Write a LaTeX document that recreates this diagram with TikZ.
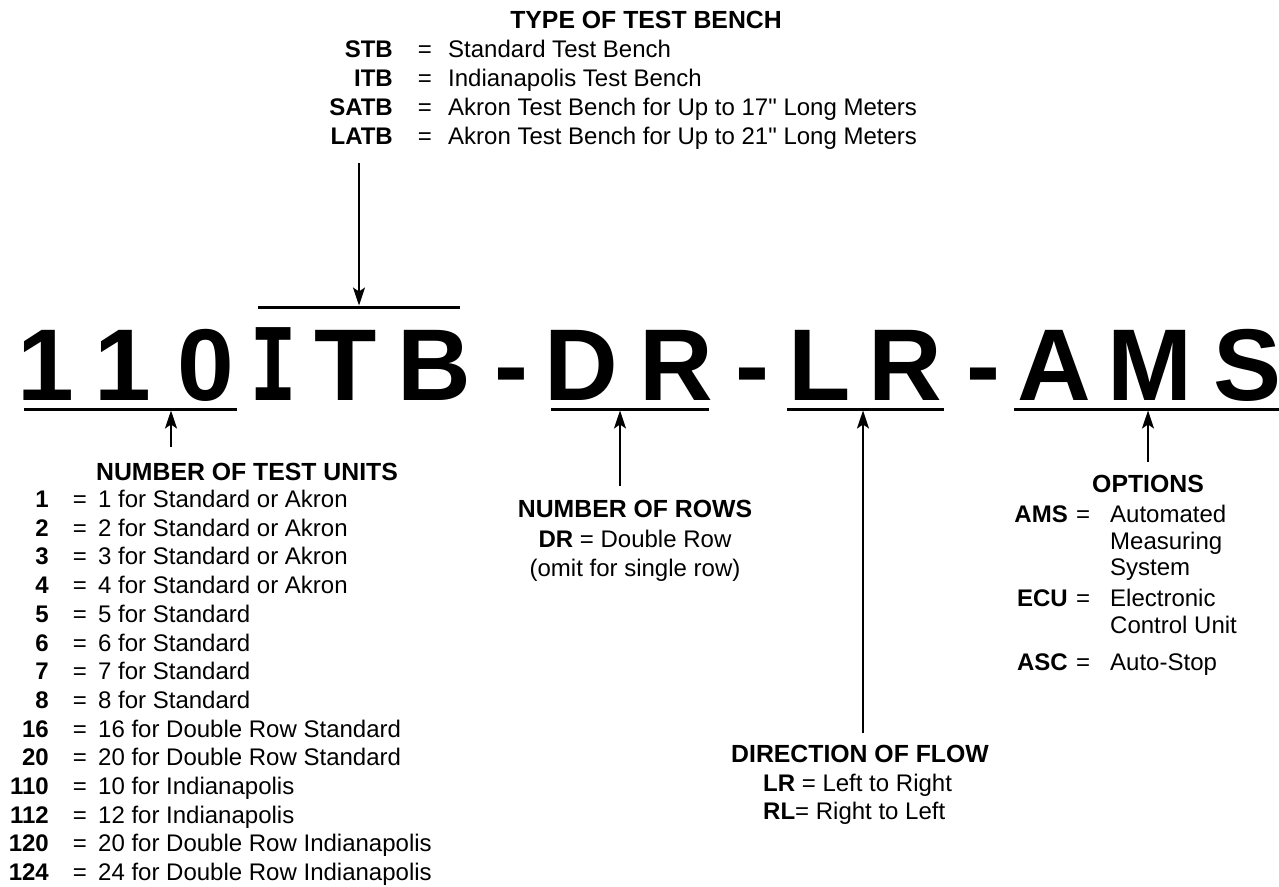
\documentclass[tikz,border=0pt]{standalone}
\usepackage{fontspec}
\setmainfont{Liberation Sans}[Ligatures=TeXOff]
\newfontfamily\monofam{DejaVu Sans Mono}
\usetikzlibrary{arrows.meta}
\begin{document}
\begin{tikzpicture}[x=1pt,y=-1pt,
  big/.style={font=\fontsize{102}{102}\selectfont\bfseries, inner sep=0pt, anchor=base},
  hd/.style={font=\fontsize{24.8}{26}\selectfont\bfseries, inner sep=0pt, anchor=base},
  keyt/.style={font=\fontsize{24}{26}\selectfont\bfseries, inner sep=0pt, anchor=base east},
  eqs/.style={font=\fontsize{24}{26}\selectfont, inner sep=0pt, anchor=base},
  desc/.style={font=\fontsize{24}{26}\selectfont, inner sep=0pt, anchor=base west},
  ctr/.style={font=\fontsize{24}{26}\selectfont, inner sep=0pt, anchor=base},
  bar/.style={line width=3pt},
  arr/.style={line width=2pt, -{Stealth[length=18pt,width=12pt,inset=4pt]}},
]
\useasboundingbox (0,0) rectangle (1279,886);

% ---- big code letters ----
\node[big] (c1)  at (46,400)   {1};
\node[big] (c2)  at (123,400)  {1};
\node[big] (c3)  at (206,400)  {0};
\node[big] (c4)  at (274,400)  {\scalebox{0.8}[1]{\fontsize{100}{100}\selectfont\monofam\bfseries I}};
\node[big] (c5)  at (346,400)  {T};
\node[big] (c6)  at (434,400)  {B};
\node[big] (c7)  at (511,400)  {-};
\node[big] (c8)  at (581.5,400) {D};
\node[big] (c9)  at (676,400)  {R};
\node[big] (c10) at (752.5,400) {-};
\node[big] (c11) at (820,400)  {L};
\node[big] (c12) at (905,400)  {R};
\node[big] (c13) at (983,400)  {-};
\node[big] (c14) at (1054.5,400) {A};
\node[big] (c15) at (1150,400) {M};
\node[big] (c16) at (1247,400) {S};

% ---- under/over lines ----
\coordinate (l110a) at (24,409);   \coordinate (l110b) at (237,409);
\coordinate (litba) at (258,307);  \coordinate (litbb) at (460,307);
\coordinate (ldra)  at (551,409);  \coordinate (ldrb)  at (709,409);
\coordinate (llra)  at (787,409);  \coordinate (llrb)  at (944,409);
\coordinate (lamsa) at (1014,409); \coordinate (lamsb) at (1279,409);
\draw[bar] (l110a) -- (l110b);
\draw[bar] (litba) -- (litbb);
\draw[bar] (ldra) -- (ldrb);
\draw[bar] (llra) -- (llrb);
\draw[bar] (lamsa) -- (lamsb);

% ---- arrows ----
\coordinate (a110t) at (171,447);  \coordinate (a110h) at (171,410.5);
\coordinate (aitbt) at (359,163);  \coordinate (aitbh) at (359,305.5);
\coordinate (adrt)  at (620,486);  \coordinate (adrh)  at (620,410.5);
\coordinate (alrt)  at (863,733);  \coordinate (alrh)  at (863,410.5);
\coordinate (aamst) at (1148,462); \coordinate (aamsh) at (1148,410.5);
\draw[arr] (a110t) -- (a110h);
\draw[arr] (aitbt) -- (aitbh);
\draw[arr] (adrt) -- (adrh);
\draw[arr] (alrt) -- (alrh);
\draw[arr] (aamst) -- (aamsh);

% ---- type of test bench ----
\node[hd] (tbh) at (646,28) {TYPE OF TEST BENCH};
\foreach \k/\d [count=\i from 0] in {STB/Standard Test Bench,ITB/Indianapolis Test Bench,SATB/Akron Test Bench for Up to 17" Long Meters,LATB/Akron Test Bench for Up to 21" Long Meters}{
  \node[keyt] (tbk\i) at (393,57+29*\i) {\k};
  \node[eqs]  (tbe\i) at (425,57+29*\i) {=};
  \node[desc] (tbd\i) at (448,57+29*\i) {\d};
}

% ---- number of test units ----
\node[hd] (nuh) at (247,480) {NUMBER OF TEST UNITS};
\foreach \k/\d [count=\i from 0] in {1/1 for Standard or Akron,2/2 for Standard or Akron,3/3 for Standard or Akron,4/4 for Standard or Akron,5/5 for Standard,6/6 for Standard,7/7 for Standard,8/8 for Standard,16/16 for Double Row Standard,20/20 for Double Row Standard,110/10 for Indianapolis,112/12 for Indianapolis,120/20 for Double Row Indianapolis,124/24 for Double Row Indianapolis}{
  \node[keyt] (nuk\i) at (49,507.5+28.7*\i) {\k};
  \node[eqs]  (nue\i) at (80,507.5+28.7*\i) {=};
  \node[desc] (nud\i) at (98,507.5+28.7*\i) {\d};
}

% ---- number of rows ----
\node[hd]  (nrh) at (635,517) {NUMBER OF ROWS};
\node[ctr] (nr1) at (635,547) {\textbf{DR} = Double Row};
\node[ctr] (nr2) at (635,576) {(omit for single row)};

% ---- direction of flow ----
\node[hd]   (dfh) at (860,762) {DIRECTION OF FLOW};
\node[desc] (df1) at (763,791) {\textbf{LR} = Left to Right};
\node[desc] (df2) at (763,819) {\textbf{RL}= Right to Left};

% ---- options ----
\node[hd] (oph) at (1148,492) {OPTIONS};
\node[keyt] (opk1) at (1068,522) {AMS};
\node[eqs]  (ope1) at (1083,522) {=};
\node[desc] (opd1) at (1110,522) {Automated};
\node[desc] (opd1b) at (1110,549) {Measuring};
\node[desc] (opd1c) at (1110,575) {System};
\node[keyt] (opk2) at (1068,606) {ECU};
\node[eqs]  (ope2) at (1083,606) {=};
\node[desc] (opd2) at (1110,606) {Electronic};
\node[desc] (opd2b) at (1110,633) {Control Unit};
\node[keyt] (opk3) at (1068,670) {ASC};
\node[eqs]  (ope3) at (1083,670) {=};
\node[desc] (opd3) at (1110,670) {Auto-Stop};
\end{tikzpicture}
\end{document}
